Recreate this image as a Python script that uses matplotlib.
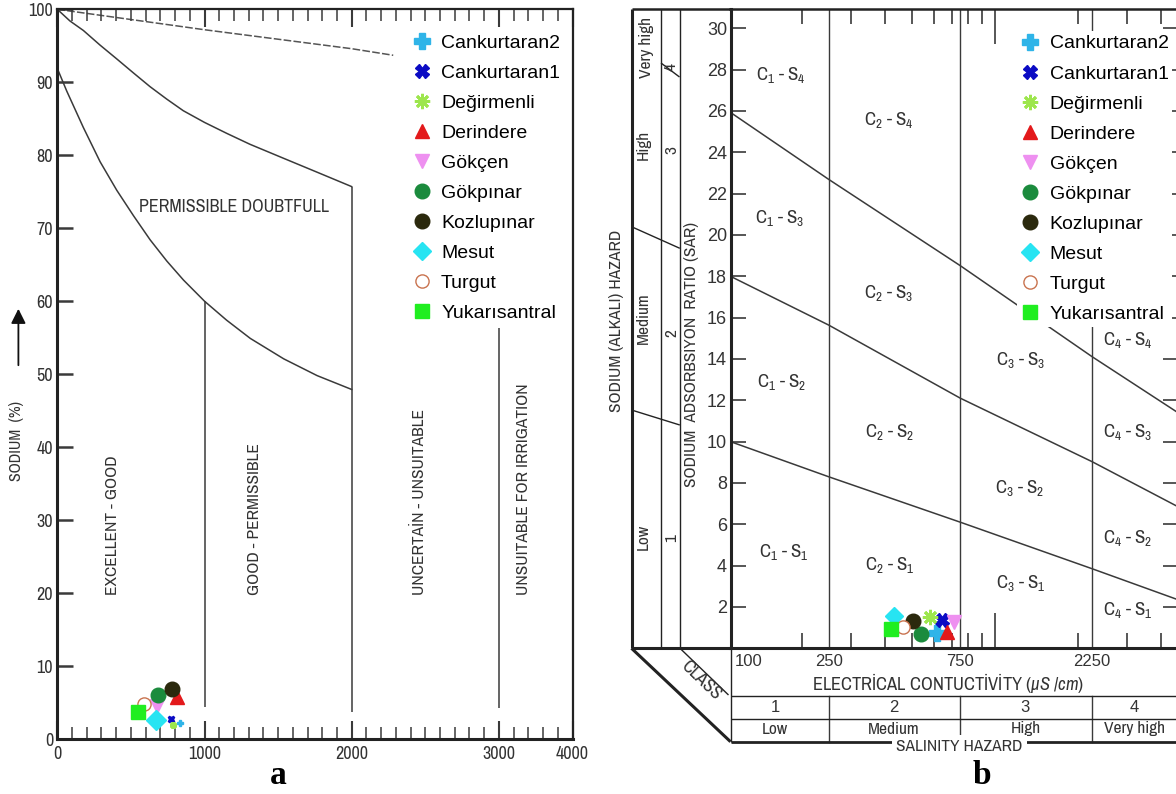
import matplotlib
matplotlib.use('Agg')
import matplotlib.pyplot as plt
from matplotlib.lines import Line2D
from matplotlib.patches import FancyArrowPatch
from matplotlib.ticker import FixedLocator, NullFormatter
from matplotlib.transforms import blended_transform_factory

W, H = 1176, 794
NARROW = ['Archivo Narrow', 'DejaVu Sans']
SANS = ['Liberation Sans', 'DejaVu Sans']
SERIF = ['Liberation Serif', 'DejaVu Serif']
plt.rcParams['font.family'] = SANS
plt.rcParams['mathtext.fontset'] = 'custom'
plt.rcParams['mathtext.rm'] = 'Archivo Narrow'
plt.rcParams['mathtext.it'] = 'Archivo Narrow:italic'

# ---------------- data ----------------
stations = ['Cankurtaran2', 'Cankurtaran1', 'Değirmenli', 'Derindere', 'Gökçen',
            'Gökpınar', 'Kozlupınar', 'Mesut', 'Turgut', 'Yukarısantral']

# Wilcox diagram (a): EC (uS/cm) and sodium (%)
ec_a = [834, 774, 787, 816, 678, 686, 777, 673, 587, 548]
na_a = [2.2, 2.8, 1.9, 5.7, 4.5, 6.0, 6.8, 2.6, 4.8, 3.7]

# USSL diagram (b): EC (uS/cm) and SAR
ec_b = [615, 642, 582, 672, 713, 540, 504, 432, 466, 419]
sar_b = [0.73, 1.37, 1.53, 0.80, 1.29, 0.68, 1.32, 1.56, 1.02, 0.92]

# Wilcox boundary curves
wil_top_x = [0, 1000, 2000, 2282]
wil_top_y = [100, 97.2, 94.6, 93.7]
wil_up_x = [0, 86, 177, 290, 404, 516, 630, 743, 856, 1000, 1151, 1309, 1535, 1762, 2000]
wil_up_y = [100, 98.4, 97.1, 95.1, 93.2, 91.3, 89.4, 87.7, 86.1, 84.5, 83.0, 81.5, 79.6, 77.7, 75.7]
wil_lo_x = [0, 64, 177, 291, 404, 518, 631, 744, 857, 1000, 1150, 1311, 1538, 1765, 2000]
wil_lo_y = [91.9, 88.8, 83.8, 79.1, 75.2, 71.7, 68.4, 65.5, 62.9, 60.0, 57.4, 54.9, 52.1, 49.8, 47.9]
wil_vx = [1000, 2000, 3000]
wil_vbot = [4.4, 3.7, 4.2]
wil_vtop = [60.0, 75.7, 56.3]
wil_xticks = [0, 1000, 2000, 3000, 3500]
wil_xticklabels = ['0', '1000', '2000', '3000', '4000']
wil_yticks = [0, 10, 20, 30, 40, 50, 60, 70, 80, 90, 100]
wil_zone_labels = ['EXCELLENT - GOOD', 'GOOD - PERMISSIBLE', 'UNCERTAİN - UNSUITABLE',
                   'UNSUITABLE FOR IRRIGATION']
wil_zone_x = [378, 1342, 2461, 3164]

# USSL boundaries
ussl_ec_bounds = [250, 750, 2250]
sar_line_x = [110.2, 250, 750, 2250, 4606]
sar_s12 = [10.0, 8.3, 6.1, 3.85, 2.35]
sar_s23 = [18.0, 15.64, 12.1, 9.03, 6.85]
sar_s34 = [25.93, 22.69, 18.51, 14.11, 11.4]
ussl_cells = ['C$_1$ - S$_4$', 'C$_2$ - S$_4$', 'C$_1$ - S$_3$', 'C$_2$ - S$_3$', 'C$_1$ - S$_2$',
              'C$_3$ - S$_3$', 'C$_4$ - S$_4$', 'C$_2$ - S$_2$', 'C$_4$ - S$_3$', 'C$_3$ - S$_2$',
              'C$_4$ - S$_2$', 'C$_1$ - S$_1$', 'C$_2$ - S$_1$', 'C$_3$ - S$_1$', 'C$_4$ - S$_1$']
ussl_cell_x = [168, 412, 166, 412, 169, 1243, 3026, 416, 3026, 1232, 3026, 172, 416, 1243, 3026]
ussl_cell_y = [27.74, 25.56, 20.82, 17.19, 12.88, 13.95, 14.92, 10.48, 10.48, 7.74, 5.32,
               4.67, 4.03, 3.14, 1.85]
ec_labels = ['250', '750', '2250']
class_nums = ['1', '2', '3', '4']
class_names = ['Low', 'Medium', 'High', 'Very high']
class_mid_x = [160, 430, 1290, 3200]
sar_class_names = ['Very high', 'High', 'Medium', 'Low']
sar_class_nums = ['4', '3', '2', '1']

# ---------------- styles ----------------
colors = ['#2fb4e8', '#0b0bc4', '#9de64d', '#e3191b', '#ee90f0',
          '#1b8b3d', '#2b290d', '#27e4f2', '#c9734f', '#20ee20']
markers = ['P', 'X', (8, 2, 0), '^', 'v', 'o', 'o', 'D', 'o', 's']
ms_b = [11, 10, 11, 10, 10, 10.5, 10.5, 9.5, 9.5, 9.5]
ms_a = [5, 5, 5, 10, 10, 10.5, 10.5, 10, 9.5, 10]
LC = '#3a3a3a'
TC = '#333333'


def fx(px):
    return px / W


def fy(py):
    return 1 - py / H


fig = plt.figure(figsize=(W / 100, H / 100), dpi=100)

# ================= panel a =================
axa = fig.add_axes([fx(57.3), fy(739), (572.5 - 57.3) / W, (739 - 9.3) / H])
axa.set_xlim(0, 3500)
axa.set_ylim(0, 100)
axa.plot(wil_top_x, wil_top_y, color='#555555', lw=1.1, ls=(0, (5, 1.5)), zorder=1)
axa.plot(wil_up_x, wil_up_y, color=LC, lw=1.1, zorder=1)
axa.plot(wil_lo_x, wil_lo_y, color=LC, lw=1.1, zorder=1)
axa.vlines(wil_vx, wil_vbot, wil_vtop, color=LC, lw=1.1, zorder=1)

for i, name in enumerate(stations):
    face = 'white' if name == 'Turgut' else colors[i]
    mew = 1.6 if markers[i] == (8, 2, 0) else 1.0
    axa.plot(ec_a[i], na_a[i], ls='none', marker=markers[i], ms=ms_a[i],
             mfc=face, mec=colors[i], mew=mew, zorder=3)

axa.set_xticks(wil_xticks)
axa.set_xticklabels(wil_xticklabels, family=NARROW)
axa.set_xticks([v for v in range(100, 3500, 100) if v % 1000], minor=True)
axa.set_yticks(wil_yticks)
axa.set_yticklabels([str(v) for v in wil_yticks], family=NARROW)
axa.tick_params(axis='x', which='major', direction='in', length=13, width=1.5, top=True,
                labelsize=13, pad=5, colors=LC, labelcolor=TC)
axa.tick_params(axis='x', which='minor', direction='in', length=8.5, width=1.1, top=True, colors=LC)
axa.tick_params(axis='y', which='major', direction='in', length=11.5, width=1.8,
                labelsize=13, pad=3, colors=LC, labelcolor=TC)
for s, lw in zip(['left', 'bottom', 'top', 'right'], [2.2, 2.2, 1.6, 1.6]):
    axa.spines[s].set_linewidth(lw)
    axa.spines[s].set_color('#222222')

for lab, x in zip(wil_zone_labels, wil_zone_x):
    axa.text(x, 19.7, lab, rotation=90, ha='center', va='bottom', fontsize=12.5, color=TC,
             family=NARROW)
axa.text(1198, 72.9, 'PERMISSIBLE DOUBTFULL', ha='center', va='center', fontsize=13,
         color=TC, family=NARROW)

fig.text(fx(17), fy(441), 'SODIUM  (%)', rotation=90, ha='center', va='center',
         fontsize=11.5, color=TC, family=NARROW)
fig.add_artist(FancyArrowPatch((fx(18.4), fy(368)), (fx(18.4), fy(306)),
                               transform=fig.transFigure, arrowstyle='-|>',
                               mutation_scale=22, color='#111111', lw=1.3))
fig.text(fx(278), fy(776), 'a', fontsize=24, fontweight='bold', family=SERIF,
         ha='center', va='center')

# ================= panel b =================
axb = fig.add_axes([fx(730.5), fy(648.3), (1178 - 730.5) / W, (648.3 - 9.3) / H])
axb.set_xscale('log')
axb.set_xlim(110.2, 4606)
axb.set_ylim(0, 30.92)
axb.vlines(ussl_ec_bounds, 0, 30.92, color=LC, lw=1.0, zorder=1)
for ys in (sar_s12, sar_s23, sar_s34):
    axb.plot(sar_line_x, ys, color=LC, lw=1.1, zorder=1)

for i, name in enumerate(stations):
    face = 'white' if name == 'Turgut' else colors[i]
    mew = 2.0 if markers[i] == (8, 2, 0) else 1.0
    axb.plot(ec_b[i], sar_b[i], ls='none', marker=markers[i], ms=ms_b[i],
             mfc=face, mec=colors[i], mew=mew, zorder=3, label=name)

for lab, x, y in zip(ussl_cells, ussl_cell_x, ussl_cell_y):
    axb.text(x, y, lab, ha='center', va='center', fontsize=13.5, color=TC, family=NARROW)

axb.xaxis.set_major_locator(FixedLocator([1000]))
axb.xaxis.set_minor_locator(FixedLocator([200, 300, 400, 500, 600, 700, 800, 900,
                                          2000, 3000, 4000]))
axb.xaxis.set_major_formatter(NullFormatter())
axb.xaxis.set_minor_formatter(NullFormatter())
axb.tick_params(axis='x', which='major', direction='in', length=25, width=1.2, top=True, colors=LC)
axb.tick_params(axis='x', which='minor', direction='in', length=10.5, width=1.2, top=True, colors=LC)
axb.set_yticks(range(2, 31, 2))
axb.tick_params(axis='y', direction='in', length=11, width=1.2, right=True,
                labelsize=13, pad=2.5, colors=LC, labelcolor=TC)
for s, lw in zip(['left', 'bottom', 'top', 'right'], [2.2, 2.2, 1.8, 1.6]):
    axb.spines[s].set_linewidth(lw)
    axb.spines[s].set_color('#222222')

# frame of the USSL template (pixel layout)
frame = [((631.5, 9.3), (730.5, 9.3), 1.8), ((631.5, 9.3), (631.5, 648.3), 2.2),
         ((661, 9.3), (661, 648.3), 1.0), ((679.5, 9.3), (679.5, 648.3), 1.0),
         ((631.5, 648.3), (730.5, 648.3), 2.2), ((631.5, 648.3), (730.5, 741.7), 2.2),
         ((680, 648.3), (728.5, 695), 1.0), ((730.5, 648.3), (730.5, 741.7), 1.0),
         ((730.5, 696), (1176, 696), 1.0), ((730.5, 718.5), (1176, 718.5), 1.0),
         ((730.5, 741.7), (1176, 741.7), 2.0),
         ((661, 63), (679.5, 77), 1.0), ((631.5, 226.7), (679.8, 248.3), 1.0),
         ((631.5, 410), (679.8, 425), 1.0)]
for (x1, y1), (x2, y2), lw in frame:
    fig.add_artist(Line2D([fx(x1), fx(x2)], [fy(y1), fy(y2)], transform=fig.transFigure,
                          color='#222222', lw=lw, solid_capstyle='butt'))

bt = blended_transform_factory(axb.transData, fig.transFigure)
for x in ussl_ec_bounds:
    axb.plot([x, x], [fy(696), fy(741.7)], transform=bt, color=LC, lw=1.0, clip_on=False)
for lab, x in zip(ec_labels, ussl_ec_bounds):
    axb.text(x, fy(661), lab, transform=bt, ha='center', va='center', fontsize=12, color=TC)
fig.text(fx(735), fy(661), '100', ha='left', va='center', fontsize=12, color=TC)
for lab, x in zip(class_nums, class_mid_x):
    axb.text(x, fy(707), lab, transform=bt, ha='center', va='center', fontsize=12, color=TC)
for lab, x in zip(class_names, class_mid_x):
    axb.text(x, fy(729), lab, transform=bt, ha='center', va='center', fontsize=12.5, color=TC,
             family=NARROW)

fig.text(fx(948), fy(683), 'ELECTRİCAL CONTUCTİVİTY ($\\mu S\\ /cm$)', ha='center',
         va='center', fontsize=13.3, color=TC, family=NARROW)
fig.text(fx(959.5), fy(746.5), 'SALINITY HAZARD', ha='center', va='center', fontsize=12.5,
         color=TC, family=NARROW, bbox=dict(facecolor='white', edgecolor='none', pad=3))
fig.text(fx(701), fy(680), 'CLASS', rotation=-44, ha='center', va='center', fontsize=13,
         color=TC, family=NARROW)
for lab, (x, y) in zip(sar_class_names, [(646, 47), (643, 145), (643, 318), (643, 537)]):
    fig.text(fx(x), fy(y), lab, rotation=90, ha='center', va='center', fontsize=12.5, color=TC,
             family=NARROW)
for lab, (x, y) in zip(sar_class_nums, [(671.5, 67), (672, 150), (672, 333), (672, 538)]):
    fig.text(fx(x), fy(y), lab, rotation=90, ha='center', va='center', fontsize=12.5, color=TC,
             family=NARROW)
fig.text(fx(616), fy(321), 'SODIUM (ALKALI) HAZARD', rotation=90, ha='center', va='center',
         fontsize=12.5, color=TC, family=NARROW)
fig.text(fx(690), fy(354), 'SODIUM  ADSORBSİYON  RATİO (SAR)', rotation=90, ha='center',
         va='center', fontsize=12.5, color=TC, family=NARROW)
fig.text(fx(982), fy(776), 'b', fontsize=24, fontweight='bold', family=SERIF,
         ha='center', va='center')

# legends
leg_kw = dict(loc='upper left', bbox_transform=fig.transFigure, frameon=True, fancybox=False,
              edgecolor='none', facecolor='white', framealpha=1, handlelength=1.0,
              handletextpad=0.5, labelspacing=0.64, borderpad=0.2, borderaxespad=0,
              prop={'family': SANS, 'size': 14})
handles, labels = axb.get_legend_handles_labels()
lb = axb.legend(handles, labels, bbox_to_anchor=(fx(1016.5), fy(31)), **leg_kw)
lb.set_zorder(2.2)
la = axa.legend(handles, labels, bbox_to_anchor=(fx(408), fy(30)), **leg_kw)
la.set_zorder(2.2)

fig.savefig('out.png', dpi=100)
